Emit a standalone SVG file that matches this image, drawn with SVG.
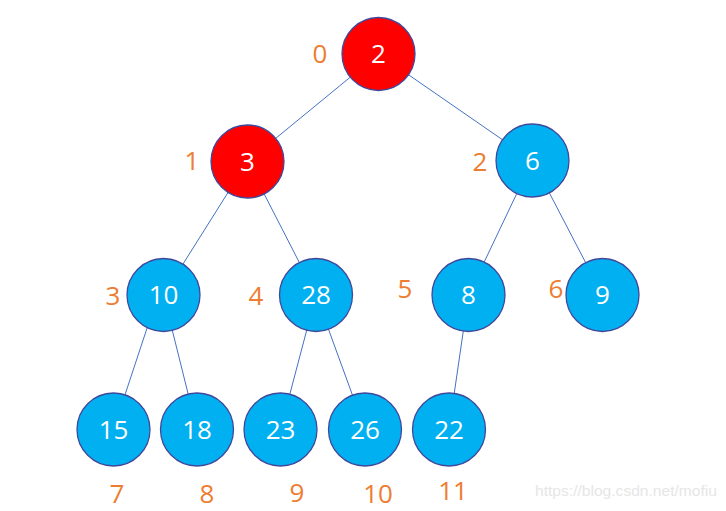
<svg xmlns="http://www.w3.org/2000/svg" width="726" height="511" viewBox="0 0 726 511">
<style>
.n circle{stroke:#40489c;stroke-width:1.3}
.red circle{fill:#ff0000}
.blue circle{fill:#00b0f0}
.n text{fill:#ffffff;font-family:"Open Sans","Liberation Sans",sans-serif;font-size:26px;text-anchor:middle}
.idx{fill:#ed7d31;font-family:"Open Sans","Liberation Sans",sans-serif;font-size:26px;text-anchor:middle}
#edges line{stroke:#4472c4;stroke-width:1}
.wm{fill:#e6e6e6;font-family:"Liberation Sans",Arial,sans-serif;font-size:15px}
</style>
<rect width="726" height="511" fill="#ffffff"/>
<g id="edges">
<line x1="378.5" y1="54" x2="247.5" y2="161.5"/>
<line x1="378.5" y1="54" x2="532.5" y2="160.5"/>
<line x1="247.5" y1="161.5" x2="163.5" y2="295"/>
<line x1="247.5" y1="161.5" x2="316" y2="295"/>
<line x1="532.5" y1="160.5" x2="468.5" y2="295"/>
<line x1="532.5" y1="160.5" x2="602.5" y2="295"/>
<line x1="158" y1="295" x2="113.5" y2="429.5"/>
<line x1="163.5" y1="295" x2="197" y2="429.5"/>
<line x1="316" y1="295" x2="280.5" y2="429.5"/>
<line x1="316" y1="295" x2="365" y2="429.5"/>
<line x1="468.5" y1="295" x2="449" y2="429.5"/>
</g>
<g id="node0" class="n red"><circle cx="378.5" cy="54" r="36.5"/><text x="378.5" y="63">2</text></g>
<g id="node1" class="n red"><circle cx="247.5" cy="161.5" r="36.5"/><text x="247.5" y="170.5">3</text></g>
<g id="node2" class="n blue"><circle cx="532.5" cy="160.5" r="36.5"/><text x="532.5" y="169.5">6</text></g>
<g id="node3" class="n blue"><circle cx="163.5" cy="295" r="36.5"/><text x="163.5" y="304">10</text></g>
<g id="node4" class="n blue"><circle cx="316" cy="295" r="36.5"/><text x="316" y="304">28</text></g>
<g id="node5" class="n blue"><circle cx="468.5" cy="295" r="36.5"/><text x="468.5" y="304">8</text></g>
<g id="node6" class="n blue"><circle cx="602.5" cy="295" r="36.5"/><text x="602.5" y="304">9</text></g>
<g id="node7" class="n blue"><circle cx="113.5" cy="429.5" r="36.5"/><text x="113.5" y="438.5">15</text></g>
<g id="node8" class="n blue"><circle cx="197" cy="429.5" r="36.5"/><text x="197" y="438.5">18</text></g>
<g id="node9" class="n blue"><circle cx="280.5" cy="429.5" r="36.5"/><text x="280.5" y="438.5">23</text></g>
<g id="node10" class="n blue"><circle cx="365" cy="429.5" r="36.5"/><text x="365" y="438.5">26</text></g>
<g id="node11" class="n blue"><circle cx="449" cy="429.5" r="36.5"/><text x="449" y="438.5">22</text></g>
<g id="labels">
<text class="idx" x="320" y="63">0</text>
<text class="idx" x="192" y="170">1</text>
<text class="idx" x="480" y="171">2</text>
<text class="idx" x="113" y="305">3</text>
<text class="idx" x="256" y="305">4</text>
<text class="idx" x="405" y="298">5</text>
<text class="idx" x="556" y="298">6</text>
<text class="idx" x="117" y="503">7</text>
<text class="idx" x="207" y="503">8</text>
<text class="idx" x="297" y="502">9</text>
<text class="idx" x="378" y="503">10</text>
<text class="idx" x="453" y="500">11</text>
</g>
<text class="wm" x="535" y="496" textLength="182" lengthAdjust="spacingAndGlyphs">https://blog.csdn.net/mofiu</text>
</svg>
